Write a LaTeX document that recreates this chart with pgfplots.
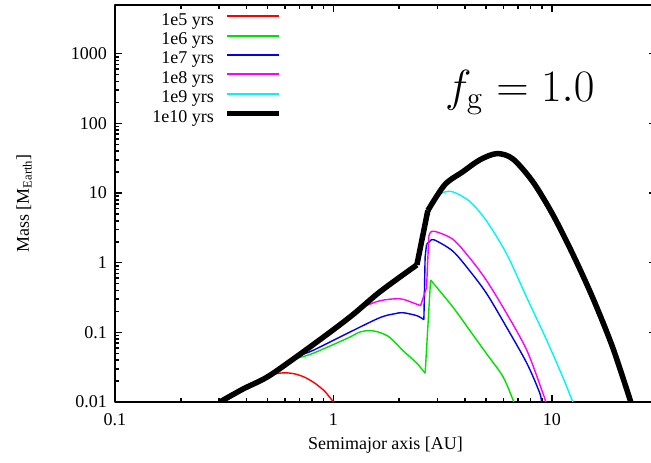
\documentclass[border=0pt]{standalone}
\usepackage[no-math]{fontspec}
\setmainfont{Liberation Serif}
\usepackage{pgfplots}
\pgfplotsset{compat=1.18}
\definecolor{gpred}{RGB}{255,0,0}
\definecolor{gpgreen}{RGB}{0,225,0}
\definecolor{gpblue}{RGB}{0,0,235}
\definecolor{gpmag}{RGB}{255,0,255}
\definecolor{gpcyan}{RGB}{0,245,245}
\begin{document}
\fontsize{18}{20}\selectfont
\begin{tikzpicture}[x=1pt,y=1pt]
\begin{axis}[
  at={(115pt,61pt)}, anchor=south west,
  scale only axis, width=541pt, height=397pt,
  xmode=log, ymode=log,
  xmin=0.1, xmax=30, ymin=0.01, ymax=5000,
  axis line style={line width=2.5pt},
  xtick={0.1,1,10}, xticklabels={0.1,1,10},
  ytick={0.01,0.1,1,10,100,1000}, yticklabels={0.01,0.1,1,10,100,1000},
  tick align=inside,
  major tick length=7pt, minor tick length=4pt,
  every tick/.style={line width=1.6pt, black},
  xticklabel style={yshift=-5pt},
  yticklabel style={xshift=-2pt},
  xlabel={Semimajor axis [AU]},
  ylabel={Mass [M\textsubscript{Earth}]},
  xlabel style={at={(axis description cs:0.5,-0.108)}, anchor=center},
  ylabel style={at={(axis description cs:-0.168,0.5)}, anchor=center},
  legend plot pos=right,
  legend cell align=right,
  legend image code/.code={\draw[#1] (0pt,5pt) -- (52pt,5pt);},
  legend style={draw=none, fill=none, inner sep=0pt,
    at={(axis description cs:0.309,0.980)}, anchor=north east,
    nodes={inner sep=0pt, text height=12pt, text depth=4pt},
    row sep=3.4pt, column sep=11pt, font=\fontsize{18}{20}\selectfont},
  line join=round,
  every axis plot/.append style={forget plot},
]
\addlegendimage{gpred, line width=2pt}\addlegendentry{1e5 yrs}
\addlegendimage{gpgreen, line width=2pt}\addlegendentry{1e6 yrs}
\addlegendimage{gpblue, line width=2pt}\addlegendentry{1e7 yrs}
\addlegendimage{gpmag, line width=2pt}\addlegendentry{1e8 yrs}
\addlegendimage{gpcyan, line width=2pt}\addlegendentry{1e9 yrs}
\addlegendimage{black, line width=5pt}\addlegendentry{1e10 yrs}
% ---- 1e5 yrs
\addplot[gpred, line width=1.4pt, smooth] coordinates {
(0.4148,0.0178) (0.4946,0.02315) (0.540,0.0253) (0.600,0.02625) (0.6666,0.0253)
(0.7405,0.02256) (0.8227,0.01859) (0.9143,0.01416) (1.0,0.0100)};
% ---- 1e6 yrs
\addplot[gpgreen, line width=1.4pt, smooth] coordinates {
(0.6527,0.0410) (0.7027,0.04375) (0.8058,0.0499) (1.153,0.0816) (1.322,0.101)
(1.469,0.1061) (1.632,0.0994) (1.814,0.0843) (2.080,0.0550) (2.411,0.0359) (2.631,0.0259)};
\addplot[gpgreen, line width=1.4pt] coordinates {(2.631,0.0259) (2.786,0.565)};
\addplot[gpgreen, line width=1.4pt, smooth] coordinates {
(2.786,0.565) (3.535,0.2278) (4.215,0.1061) (5.024,0.0494) (5.985,0.0229) (6.70,0.0100)};
% ---- 1e7 yrs
\addplot[gpblue, line width=1.4pt, smooth] coordinates {
(0.6527,0.0410) (0.7027,0.0467) (0.8058,0.0550) (1.153,0.0961) (1.632,0.1625)
(1.911,0.185) (2.080,0.1914) (2.411,0.1734) (2.596,0.1522)};
\addplot[gpblue, line width=1.4pt] coordinates {(2.596,0.1522) (2.630,1.20) (2.670,1.823)};
\addplot[gpblue, line width=1.4pt, smooth] coordinates {
(2.670,1.823) (2.765,2.031) (2.90,2.12) (3.523,1.463) (4.215,0.759) (5.04,0.357)
(6.22,0.1171) (7.69,0.0359) (8.81,0.01343) (8.95,0.0100)};
% ---- 1e8 yrs
\addplot[gpmag, line width=1.4pt, smooth] coordinates {
(1.228,0.1793) (1.322,0.2200) (1.632,0.2838) (2.015,0.3031) (2.311,0.2658) (2.507,0.2409)};
\addplot[gpmag, line width=1.4pt] coordinates {(2.507,0.2409) (2.670,0.439) (2.735,2.393)};
\addplot[gpmag, line width=1.4pt, smooth] coordinates {
(2.735,2.393) (2.78,2.72) (2.914,2.818) (3.523,2.169) (4.215,1.163) (5.04,0.547)
(6.22,0.1852) (7.69,0.0550) (9.10,0.01343) (9.39,0.0100)};
% ---- 1e9 yrs
\addplot[gpcyan, line width=1.4pt, smooth] coordinates {
(2.707,5.61) (3.072,9.49) (3.486,10.47) (4.215,7.54) (5.04,3.91) (6.22,1.326)
(7.69,0.313) (9.49,0.0763) (11.23,0.0227) (12.48,0.0100)};
% ---- 1e10 yrs
\addplot[black, line width=5.5pt, smooth] coordinates {
(0.302,0.0100) (0.385,0.01531) (0.4963,0.0227) (0.6527,0.0410)
(0.934,0.0931) (1.228,0.1793) (1.632,0.3814) (2.411,0.93)};
\addplot[black, line width=5.5pt] coordinates {(2.411,0.93) (2.707,5.61)};
\addplot[black, line width=5.5pt, smooth] coordinates {
(2.707,5.61) (3.238,13.17) (3.914,20.2) (4.683,29.9) (5.602,36.8) (6.63,30.9)
(8.19,14.5) (10.1,4.92) (12.48,1.326) (15.4,0.313) (19.0,0.0608) (23.0,0.0100)};
\node[anchor=base, scale=2.6] at (axis cs:7.14,207) {$f_{\mathrm{g}} = 1.0$};
\end{axis}
\pgfresetboundingbox
\path[use as bounding box] (0,0) rectangle (651,463);
\end{tikzpicture}
\end{document}
